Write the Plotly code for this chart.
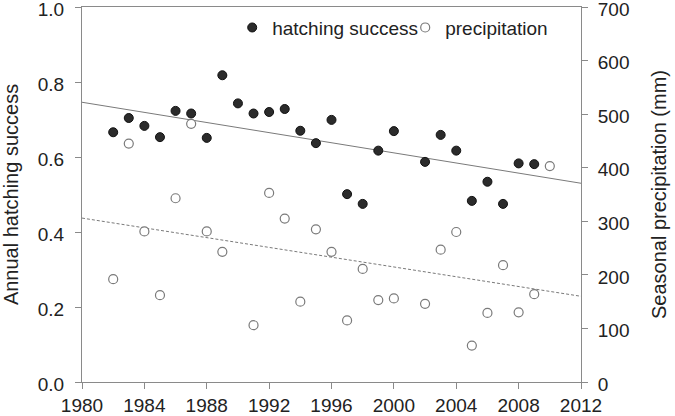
import plotly.graph_objects as go

# ---- data ----
hatch_years = [1982, 1983, 1984, 1985, 1986, 1987, 1988, 1989, 1990, 1991, 1992, 1993,
               1994, 1995, 1996, 1997, 1998, 1999, 2000, 2002, 2003, 2004, 2005, 2006,
               2007, 2008, 2009]
hatch_success = [0.666, 0.704, 0.683, 0.653, 0.723, 0.716, 0.651, 0.818, 0.743, 0.716,
                 0.720, 0.728, 0.670, 0.637, 0.699, 0.501, 0.475, 0.617, 0.669, 0.587,
                 0.659, 0.617, 0.483, 0.534, 0.475, 0.583, 0.581]

precip_years = [1982, 1983, 1984, 1985, 1986, 1987, 1988, 1989, 1991, 1992, 1993, 1994,
                1995, 1996, 1997, 1998, 1999, 2000, 2002, 2003, 2004, 2005, 2006, 2007,
                2008, 2009, 2010]
precipitation = [192, 445, 281, 162, 343, 482, 281, 243, 106, 353, 305, 150, 285, 243,
                 115, 211, 153, 156, 146, 247, 280, 68, 129, 218, 130, 164, 403]

trend_years = [1980, 2012]
hatch_trend = [0.746, 0.530]
precip_trend = [306, 160]

x_ticks = [1980, 1984, 1988, 1992, 1996, 2000, 2004, 2008, 2012]
y_ticks = [0.0, 0.2, 0.4, 0.6, 0.8, 1.0]
y2_ticks = [0, 100, 200, 300, 400, 500, 600, 700]

FONT = "Liberation Sans, Arial, sans-serif"
TXT = "#222222"
AX = "#8a8a8a"

fig = go.Figure()

fig.add_trace(go.Scatter(x=trend_years, y=hatch_trend, mode="lines",
                         line=dict(color="#7a7a7a", width=1), showlegend=False,
                         hoverinfo="skip"))
fig.add_trace(go.Scatter(x=trend_years, y=precip_trend, mode="lines", yaxis="y2",
                         line=dict(color="#7a7a7a", width=1, dash="3px,2px"),
                         showlegend=False, hoverinfo="skip"))

fig.add_trace(go.Scatter(x=hatch_years, y=hatch_success, mode="markers",
                         name="hatching success",
                         marker=dict(size=9, color="#2b2b2b",
                                     line=dict(color="#111111", width=1))))
fig.add_trace(go.Scatter(x=precip_years, y=precipitation, mode="markers", yaxis="y2",
                         name="precipitation",
                         marker=dict(size=9, color="white",
                                     line=dict(color="#7a7a7a", width=1.2))))

fig.update_layout(
    width=675, height=416,
    margin=dict(l=82, r=94, t=7, b=34, autoexpand=False),
    paper_bgcolor="white", plot_bgcolor="white",
    font=dict(family=FONT, size=19, color=TXT),
    showlegend=True,
    legend=dict(orientation="h", x=0.301, xanchor="left", y=0.945, yanchor="middle",
                bgcolor="rgba(0,0,0,0)", font=dict(size=19, color=TXT),
                entrywidth=128, itemwidth=30, tracegroupgap=0),
    xaxis=dict(range=[1980, 2012], tickvals=x_ticks, ticks="outside", ticklen=6,
               tickcolor=AX, showline=True, linecolor=AX, linewidth=1, mirror=True,
               showgrid=False, zeroline=False, automargin=False,
               ticklabeloverflow="allow",
               tickfont=dict(size=19, color=TXT)),
    yaxis=dict(range=[0, 1], tickvals=y_ticks, tickformat=".1f", ticks="outside",
               ticklen=6, tickcolor=AX, showline=True, linecolor=AX, linewidth=1,
               showgrid=False, zeroline=False, automargin=False,
               ticklabeloverflow="allow", ticklabelstandoff=7, ticklabelshift=2,
               tickfont=dict(size=19, color=TXT),
               title=dict(text="Annual hatching success", font=dict(size=20, color=TXT),
                          standoff=16)),
    yaxis2=dict(range=[0, 700], tickvals=y2_ticks, overlaying="y", side="right",
                ticks="outside", ticklen=6, tickcolor=AX, showline=True, linecolor=AX,
                linewidth=1, showgrid=False, zeroline=False, automargin=False,
                ticklabeloverflow="allow", ticklabelstandoff=6, ticklabelshift=2,
                tickfont=dict(size=19, color=TXT),
                title=dict(text="Seasonal precipitation (mm)",
                           font=dict(size=20, color=TXT), standoff=23)),
)

fig.write_html("out.html", config={"displayModeBar": False},
               post_script="document.body.style.margin='0';document.body.style.padding='0';")
